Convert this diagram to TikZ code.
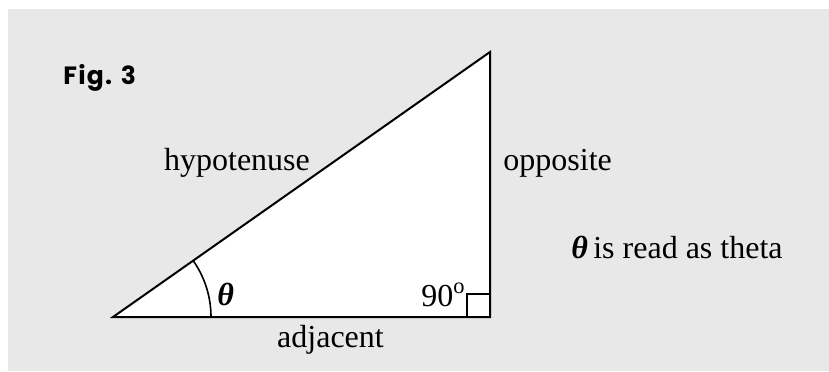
\documentclass[tikz,border=0pt]{standalone}
\usepackage{fontspec}
\setmainfont{Liberation Serif}
\newfontfamily\figfont[LetterSpace=5]{Poppins}
\definecolor{panelgray}{RGB}{232,232,232}
\tikzset{
  lbl/.style={inner sep=0pt,font=\fontsize{16}{18}\selectfont},
  side/.style={line width=1pt},
}
\begin{document}
\begin{tikzpicture}[x=0.5pt,y=0.5pt]
\useasboundingbox (0,0) rectangle (829,371);
\fill[panelgray] (8,0) rectangle (829,362);
\coordinate (A) at (113,54);
\coordinate (B) at (490,54);
\coordinate (C) at (490,319);
\filldraw[side,fill=white,line join=miter] (A) -- (B) -- (C) -- cycle;
\draw[line width=0.8pt] (A) ++(98,0) arc[start angle=0,end angle=35.1,radius=98];
\draw[line width=0.8pt] (B) ++(-23,0) |- ++(23,23);
\node[lbl,anchor=base] (hyp) at (237,201) {hypotenuse};
\node[lbl,anchor=base west] (opp) at (503,201) {opposite};
\node[lbl,anchor=base] (adj) at (330.5,23.3) {adjacent};
\node[lbl,anchor=base west] (theta) at (217,66) {\bfseries\itshape θ};
\node[lbl,anchor=base west] (right) at (421,65) {90\textsuperscript{o}};
\node[lbl,anchor=base west] (note) at (571,113) {{\bfseries\itshape θ}\,is read as theta};
\node[inner sep=0pt,anchor=base west] (fig) at (63,287) {\figfont\bfseries\fontsize{12.5}{14}\selectfont Fig. 3};
\end{tikzpicture}
\end{document}
